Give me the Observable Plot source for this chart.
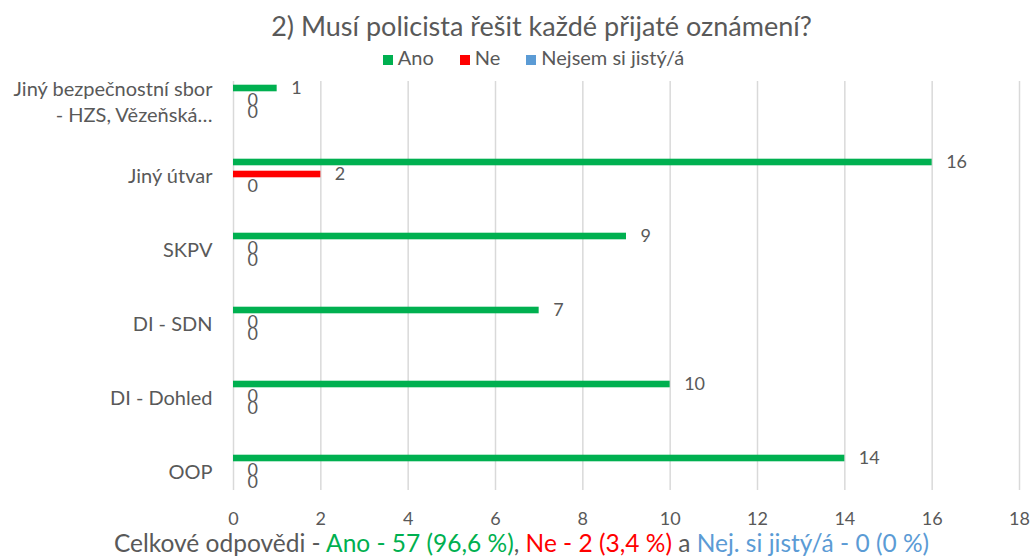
<!DOCTYPE html>
<html><head><meta charset="utf-8">
<script src="https://cdn.jsdelivr.net/npm/d3@7"></script>
<script src="https://cdn.jsdelivr.net/npm/@observablehq/plot@0.6"></script>
<style>
body{margin:0;background:#fff;font-family:Lato,"Open Sans",sans-serif;color:#595959;width:1033px;overflow:hidden}
#title{height:46px;line-height:52px;text-align:center;font-size:27px;padding-left:50px;box-sizing:border-box}
#legend{height:22px;display:flex;justify-content:center;align-items:center;font-size:20px;gap:26px;padding-left:34px;box-sizing:border-box}
#legend span.sw{display:inline-block;width:10px;height:10px;margin-right:5px}
#caption{height:28px;line-height:26px;text-align:center;font-size:24.5px;white-space:nowrap;padding-left:10px;box-sizing:border-box}
svg{display:block}
</style></head><body>
<div id="title">2) Musí policista řešit každé přijaté oznámení?</div>
<div id="legend"></div>
<div id="chart"></div>
<div id="caption"></div>
<script>
const categories = ["Jiný bezpečnostní sbor\n- HZS, Vězeňská…", "Jiný útvar", "SKPV", "DI - SDN", "DI - Dohled", "OOP"];
const seriesNames = ["Ano", "Ne", "Nejsem si jistý/á"];
const ano = [1, 16, 9, 7, 10, 14];
const ne = [0, 2, 0, 0, 0, 0];
const nejsem = [0, 0, 0, 0, 0, 0];
const xTicks = [0, 2, 4, 6, 8, 10, 12, 14, 16, 18];
const colors = ["#00B050", "#FF0000", "#5B9BD5"];
const captionParts = [
  {text: "Celkové odpovědi - ", color: "#595959"},
  {text: "Ano - 57 (96,6 %)", color: "#00B050"},
  {text: ", ", color: "#595959"},
  {text: "Ne - 2 (3,4 %)", color: "#FF0000"},
  {text: " a ", color: "#595959"},
  {text: "Nej. si jistý/á - 0 (0 %)", color: "#5B9BD5"}
];

const seriesValues = [ano, ne, nejsem];
const tables = seriesValues.map((vals, s) => categories.map((c, i) => ({category: c, series: seriesNames[s], value: vals[i]})));

const legend = document.getElementById("legend");
seriesNames.forEach((n, i) => {
  const d = document.createElement("div");
  d.innerHTML = `<span class="sw" style="background:${colors[i]}"></span>${n}`;
  legend.appendChild(d);
});
const cap = document.getElementById("caption");
captionParts.forEach(p => {
  const s = document.createElement("span");
  s.textContent = p.text; s.style.color = p.color; cap.appendChild(s);
});

const offsets = [-12, 0, 12];
const marks = [
  Plot.gridX(xTicks, {stroke: "#d9d9d9", strokeOpacity: 1, strokeWidth: 1.5}),
  Plot.axisX(xTicks, {tickSize: 0, tickPadding: 22, fontSize: 18, fill: "#595959", label: null}),
  Plot.axisY({tickSize: 0, tickPadding: 21, fontSize: 20, fill: "#595959", lineHeight: 1.3, label: null})
];
tables.forEach((t, s) => {
  marks.push(Plot.barX(t, {x: "value", y: "category", fill: colors[s], insetTop: 33.7, insetBottom: 33.7, dy: offsets[s]}));
  marks.push(Plot.text(t, {x: "value", y: "category", text: d => String(d.value), textAnchor: "start", dx: 14, dy: offsets[s], fontSize: 18, fill: "#595959"}));
});

const chart = Plot.plot({
  width: 1033,
  height: 462,
  marginTop: 13,
  marginBottom: 40,
  marginLeft: 233,
  marginRight: 14,
  style: {fontFamily: "Lato, 'Open Sans', sans-serif", background: "#fff"},
  x: {domain: [0, 18], axis: null},
  y: {domain: categories, range: [-6.2, 440.2], padding: 0, axis: null},
  marks
});
document.getElementById("chart").appendChild(chart);
</script>
</body></html>
